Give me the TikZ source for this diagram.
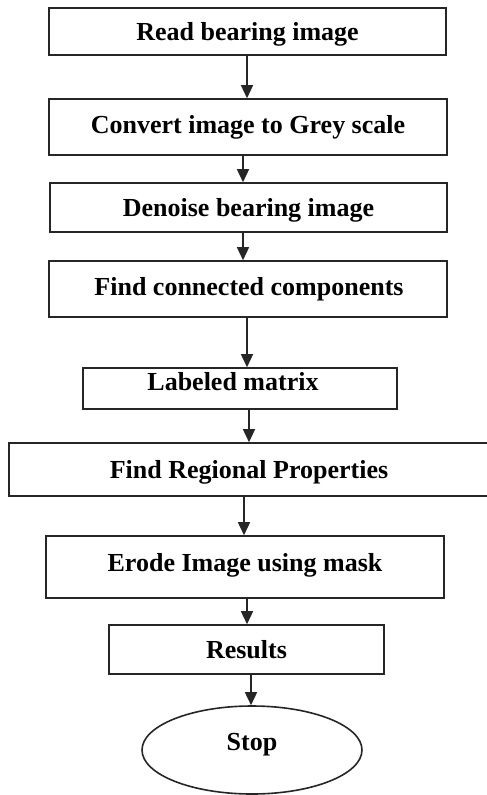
\documentclass[tikz,border=0pt]{standalone}
\usepackage{fontspec}
\setmainfont{Liberation Serif}
\usetikzlibrary{arrows.meta,shapes.geometric}
\begin{document}
\begin{tikzpicture}[x=1pt,y=-1pt,
  box/.style={draw=black!85,line width=1.6pt,inner sep=0pt,text height=20pt,text depth=2.8pt,font=\fontsize{26}{30}\selectfont\bfseries},
  lbl/.style={inner sep=0pt,text height=20pt,text depth=2.8pt,font=\fontsize{26}{30}\selectfont\bfseries},
  arr/.style={line width=1.5pt,draw=black!85,-{Triangle[width=12pt,length=13pt]}}]
\useasboundingbox (0,0) rectangle (487,795);
\node[box,minimum width=397,minimum height=47] (n1) at (247.5,31.5) {Read bearing image};
\node[box,minimum width=398,minimum height=56] (n2) at (248,127) {};
\node[lbl] (t2) at (248,125) {Convert image to Grey scale};
\node[box,minimum width=397,minimum height=49] (n3) at (248.5,207.5) {Denoise bearing image};
\node[box,minimum width=398,minimum height=56] (n4) at (248,289) {};
\node[lbl] (t4) at (249,287) {Find connected components};
\node[box,minimum width=314,minimum height=41] (n5) at (240,388.5) {};
\node[lbl] (t5) at (233,381.5) {Labeled matrix};
\node[box,minimum width=480,minimum height=53] (n6) at (249,469.5) {Find Regional Properties};
\node[box,minimum width=398,minimum height=62] (n7) at (245,567) {};
\node[lbl] (t7) at (245,563) {Erode Image using mask};
\node[box,minimum width=275,minimum height=49] (n8) at (246.5,649.5) {Results};
\node[box,ellipse,minimum width=220,minimum height=88] (n9) at (252,750) {};
\node[lbl] (t9) at (252,741.5) {Stop};
\draw[arr] ([xshift=-0.5]n1.south) -- ([xshift=-0.5]n1.south |- n2.north);
\draw[arr] ([xshift=-5]n2.south) -- ([xshift=-5]n2.south |- n3.north);
\draw[arr] ([xshift=-5.5]n3.south) -- ([xshift=-5.5]n3.south |- n4.north);
\draw[arr] ([xshift=-1]n4.south) -- ([xshift=-1]n4.south |- n5.north);
\draw[arr] ([xshift=9]n5.south) -- ([xshift=9]n5.south |- n6.north);
\draw[arr] ([xshift=-5]n6.south) -- ([xshift=-5]n6.south |- n7.north);
\draw[arr] ([xshift=2]n7.south) -- ([xshift=2]n7.south |- n8.north);
\draw[arr] ([xshift=4.5]n8.south) -- ([xshift=4.5]n8.south |- n9.north);
\end{tikzpicture}
\end{document}
